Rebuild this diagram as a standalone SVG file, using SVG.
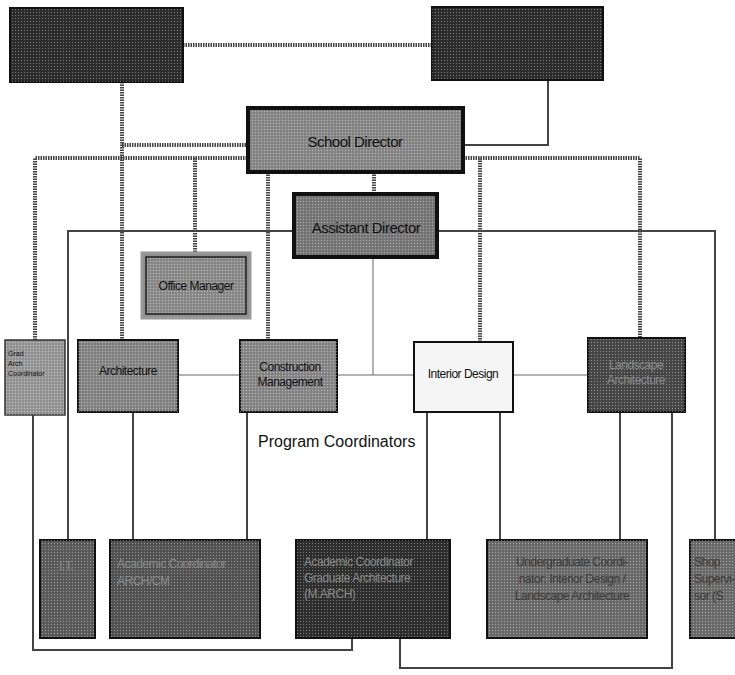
<svg xmlns="http://www.w3.org/2000/svg" width="735" height="675" viewBox="0 0 735 675">
<defs>
<pattern id="dots" width="3" height="3" patternUnits="userSpaceOnUse">
<rect x="0" y="0" width="1" height="1" fill="#ffffff" fill-opacity="0.35"/>
<rect x="1.5" y="1.5" width="1" height="1" fill="#000000" fill-opacity="0.25"/>
</pattern>
</defs>
<style>
.t{font-family:"Liberation Sans",Arial,sans-serif;font-size:12px;fill:#111;letter-spacing:-0.5px}
.tc{text-anchor:middle}
.big{font-size:15px}
.sm{font-size:7px;letter-spacing:0}
.pc{font-size:16px;letter-spacing:0}
.dk{fill:#8a8a8a}
.md{fill:#3a3a3a}
.dot{fill:none;stroke:#444;stroke-width:4;stroke-dasharray:1.5 1}
.sol{fill:none;stroke:#444;stroke-width:2}
.thin{fill:none;stroke:#666;stroke-width:1}
.box{stroke:#111;stroke-width:2}
.tex{fill:url(#dots)}
</style>
<rect width="735" height="675" fill="#ffffff"/>
<g id="connectors">
<path class="dot" d="M183 45 H432"/>
<path class="dot" d="M122 82 V340"/>
<path class="dot" d="M122 145 H248"/>
<path class="sol" d="M548 80 V145 H463"/>
<path class="dot" d="M35 340 V158 H248"/>
<path class="dot" d="M463 158 H640 V338"/>
<path class="dot" d="M480 158 V342"/>
<path class="dot" d="M195 158 V253"/>
<path class="dot" d="M268 172 V340"/>
<path class="dot" d="M374 172 V193"/>
<path class="sol" d="M293 231 H68 V540"/>
<path class="sol" d="M438 231 H715 V540"/>
<path class="thin" d="M373 258 V375"/>
<path class="thin" d="M178 375 H240"/>
<path class="thin" d="M337 375 H414"/>
<path class="thin" d="M513 375 H588"/>
<path class="sol" d="M33 415 V650 H352 V638"/>
<path class="sol" d="M133 412 V540"/>
<path class="sol" d="M247 412 V540"/>
<path class="sol" d="M427 412 V540"/>
<path class="sol" d="M500 412 V540"/>
<path class="sol" d="M620 412 V540"/>
<path class="sol" d="M672 412 V668 H400 V638"/>
</g>
<g id="top-left">
<rect class="box" x="10" y="8" width="173" height="74" fill="#2e2e2e"/>
<rect class="tex" x="10" y="8" width="173" height="74"/>
</g>
<g id="top-right">
<rect class="box" x="432" y="7" width="171" height="73" fill="#2e2e2e"/>
<rect class="tex" x="432" y="7" width="171" height="73"/>
</g>
<g id="school-director">
<rect x="248" y="108" width="215" height="64" fill="#8a8a8a" stroke="#111" stroke-width="4"/>
<rect class="tex" x="250" y="110" width="211" height="60"/>
<text class="t tc big" x="355" y="147">School Director</text>
</g>
<g id="assistant-director">
<rect x="294" y="194" width="143" height="63" fill="#7a7a7a" stroke="#111" stroke-width="4"/>
<rect class="tex" x="296" y="196" width="139" height="59"/>
<text class="t tc big" x="366" y="233">Assistant Director</text>
</g>
<g id="office-manager">
<rect x="142" y="253" width="108" height="65" fill="#8e8e8e" stroke="#999" stroke-width="3"/>
<rect x="146" y="257" width="100" height="57" fill="none" stroke="#222" stroke-width="1.5"/>
<rect class="tex" x="146" y="257" width="100" height="57"/>
<text class="t tc" x="196" y="290">Office Manager</text>
</g>
<g id="grad-arch-coordinator">
<rect x="5" y="340" width="60" height="75" fill="#9a9a9a" stroke="#333" stroke-width="1.5"/>
<rect class="tex" x="5" y="340" width="60" height="75"/>
<text class="t sm" x="8" y="356">Grad</text>
<text class="t sm" x="8" y="366">Arch</text>
<text class="t sm" x="8" y="376">Coordinator</text>
</g>
<g id="architecture">
<rect class="box" x="78" y="340" width="100" height="72" fill="#888888"/>
<rect class="tex" x="78" y="340" width="100" height="72"/>
<text class="t tc" x="128" y="375">Architecture</text>
</g>
<g id="construction-management">
<rect class="box" x="240" y="340" width="97" height="72" fill="#8a8a8a"/>
<rect class="tex" x="240" y="340" width="97" height="72"/>
<text class="t tc" x="290" y="371">Construction</text>
<text class="t tc" x="290" y="386">Management</text>
</g>
<g id="interior-design">
<rect class="box" x="414" y="342" width="99" height="70" fill="#f5f5f5"/>
<text class="t tc" x="463" y="378">Interior Design</text>
</g>
<g id="landscape-architecture">
<rect class="box" x="588" y="338" width="97" height="74" fill="#4a4a4a"/>
<rect class="tex" x="588" y="338" width="97" height="74"/>
<text class="t tc dk" x="636" y="369">Landscape</text>
<text class="t tc dk" x="636" y="384">Architecture</text>
</g>
<text id="program-coordinators" class="t pc" x="258" y="447">Program Coordinators</text>
<g id="it">
<rect class="box" x="40" y="540" width="55" height="98" fill="#5e5e5e"/>
<rect class="tex" x="40" y="540" width="55" height="98"/>
<text class="t tc dk" x="66" y="570">I.T.</text>
</g>
<g id="academic-coordinator-arch-cm">
<rect class="box" x="110" y="540" width="150" height="98" fill="#555555"/>
<rect class="tex" x="110" y="540" width="150" height="98"/>
<text class="t dk" x="117" y="568">Academic Coordinator</text>
<text class="t dk" x="117" y="585">ARCH/CM</text>
</g>
<g id="academic-coordinator-graduate">
<rect class="box" x="296" y="540" width="154" height="98" fill="#303030"/>
<rect class="tex" x="296" y="540" width="154" height="98"/>
<text class="t dk" x="304" y="566">Academic Coordinator</text>
<text class="t dk" x="304" y="582">Graduate Architecture</text>
<text class="t dk" x="304" y="598">(M.ARCH)</text>
</g>
<g id="undergraduate-coordinator">
<rect class="box" x="487" y="540" width="160" height="98" fill="#6e6e6e"/>
<rect class="tex" x="487" y="540" width="160" height="98"/>
<text class="t tc md" x="572" y="566">Undergraduate Coordi-</text>
<text class="t tc md" x="572" y="583">nator: Interior Design /</text>
<text class="t tc md" x="572" y="600">Landscape Architecture</text>
</g>
<g id="shop-supervisor">
<rect class="box" x="690" y="540" width="50" height="98" fill="#6e6e6e"/>
<rect class="tex" x="690" y="540" width="50" height="98"/>
<text class="t md" x="694" y="566">Shop</text>
<text class="t md" x="694" y="583">Supervi-</text>
<text class="t md" x="694" y="600">sor (S</text>
</g>
</svg>
